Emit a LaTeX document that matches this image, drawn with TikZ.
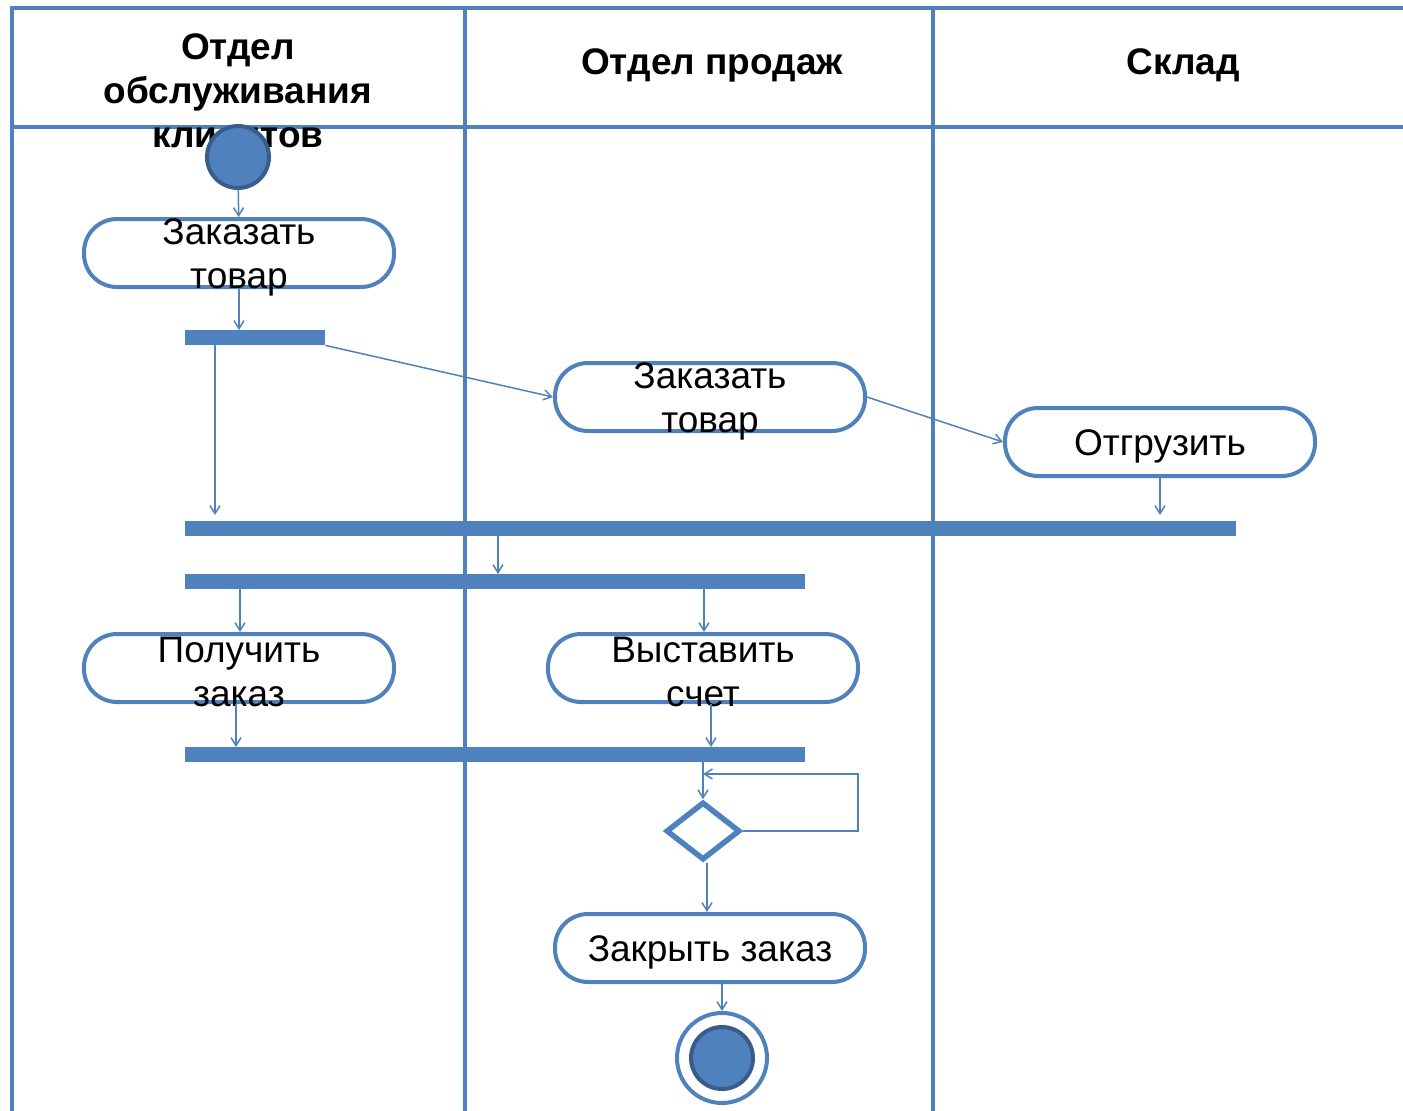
\documentclass[tikz,border=0pt]{standalone}
\usepackage{fontspec}
\setmainfont{Liberation Sans}
\usetikzlibrary{arrows.meta,shapes.geometric,calc}
\definecolor{ublue}{HTML}{4F81BD}
\definecolor{udark}{HTML}{385D8A}
\begin{document}
\begin{tikzpicture}[x=1pt,y=-1pt,
 lane/.style={draw=ublue,line width=4pt},
 act/.style={draw=ublue,line width=4pt,fill=white,rounded corners=33pt,minimum width=310pt,minimum height=68pt,inner sep=0pt},
 acttext/.style={align=center,inner sep=0pt,font=\fontsize{37}{44}\selectfont},
 bar/.style={fill=ublue,draw=none,minimum height=15pt,inner sep=0pt,anchor=north west},
 arr/.style={draw=ublue,line width=1.5pt,-{Straight Barb[length=8pt,width=10pt]}},
 hdr/.style={font=\fontsize{37}{44}\selectfont\bfseries,align=center}
]
\useasboundingbox (0,0) rectangle (1403,1111);
% lanes
\draw[lane] (12,1111) -- (12,8) -- (1403,8);
\draw[lane] (12,127) -- (1403,127);
\draw[lane] (465,8) -- (465,1111);
\draw[lane] (933,8) -- (933,1111);
% headers
\node[hdr] (h1) at (238,91) {Отдел\\обслуживания\\клиентов};
\node[hdr] (h2) at (712,65) {Отдел продаж};
\node[hdr] (h3) at (1183,65) {Склад};
% start
\node[circle,fill=ublue,draw=udark,line width=4pt,minimum size=62pt,inner sep=0pt] (start) at (238,157) {};
% actions
\node[act] (a1) at (239,253) {};
\node[act] (a2) at (710,397) {};
\node[act] (a3) at (1160,442) {};
\node[act] (a4) at (239,668) {};
\node[act] (a5) at (703,668) {};
\node[act] (a6) at (710,948) {};
\node[acttext] (t1) at ([yshift=-4pt]a1.center) {Заказать\\товар};
\node[acttext] (t2) at ([yshift=-4pt]a2.center) {Заказать\\товар};
\node[acttext] (t3) at ([yshift=-4pt]a3.center) {Отгрузить};
\node[acttext] (t4) at ([yshift=-4pt]a4.center) {Получить\\заказ};
\node[acttext] (t5) at ([yshift=-4pt]a5.center) {Выставить\\счет};
\node[acttext] (t6) at ([yshift=-4pt]a6.center) {Закрыть заказ};
% bars
\node[bar,minimum width=140pt] (b1) at (185,330) {};
\node[bar,minimum width=1051pt] (b2) at (185,521) {};
\node[bar,minimum width=620pt] (b3) at (185,574) {};
\node[bar,minimum width=620pt] (b4) at (185,747) {};
% decision
\node[diamond,draw=ublue,line width=5.5pt,fill=white,minimum width=74pt,minimum height=58pt,inner sep=0pt,aspect=1.27] (dia) at (703,831) {};
% end
\node[circle,draw=ublue,line width=4pt,fill=white,minimum size=90pt,inner sep=0pt] (endo) at (722,1058) {};
\node[circle,fill=ublue,draw=udark,line width=4pt,minimum size=62pt,inner sep=0pt] (endi) at (722,1058) {};
% connectors
\draw[arr] (start) -- (a1);
\draw[arr] (a1) -- (a1 |- b1.north);
\draw[arr,shorten >=6pt] (b1.south -| 215,0) -- (b2.north -| 215,0);
\draw[arr] (b1.south east) -- (a2.west);
\draw[arr] (a2.east) -- (a3.west);
\draw[arr,shorten >=6pt] (a3) -- (a3 |- b2.north);
\draw[arr] (b2.south -| 498,0) -- (b3.north -| 498,0);
\draw[arr] (b3.south -| 240,0) -- (a4.north -| 240,0);
\draw[arr] (b3.south -| 704,0) -- (a5.north -| 704,0);
\draw[arr] (a4.south -| 236,0) -- (b4.north -| 236,0);
\draw[arr] (a5.south -| 711,0) -- (b4.north -| 711,0);
\draw[arr] (b4.south -| dia) -- (dia.north);
\coordinate (loopend) at (703,774);
\draw[arr] (dia.east) -- (858,831) -- (858,774) -- (loopend);
\draw[arr] (dia.south -| 707,0) -- (a6.north -| 707,0);
\draw[arr] (a6.south -| endo) -- (endo.north);
\end{tikzpicture}
\end{document}
